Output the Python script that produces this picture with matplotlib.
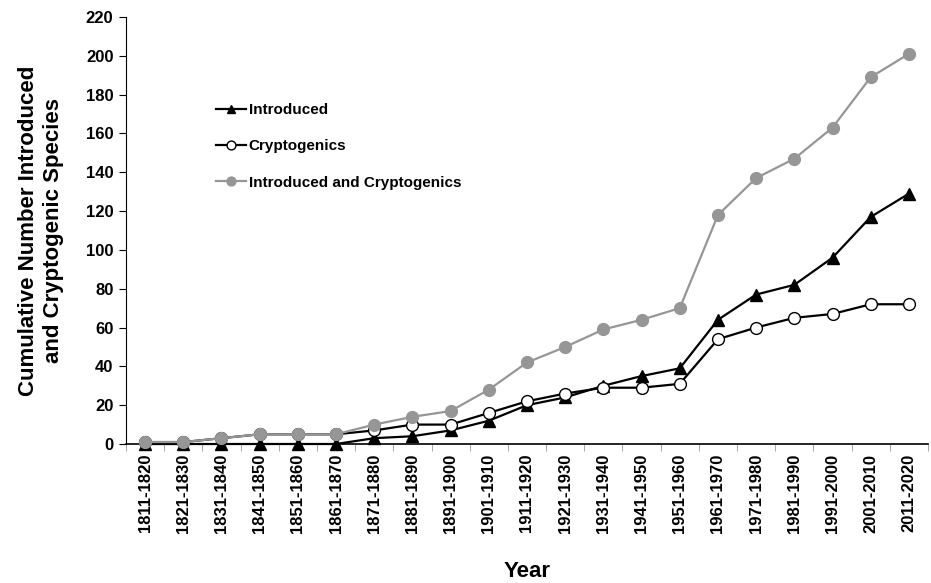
import matplotlib
matplotlib.use("Agg")
import matplotlib.pyplot as plt
import numpy as np

categories = ["1811-1820", "1821-1830", "1831-1840", "1841-1850", "1851-1860", "1861-1870",
              "1871-1880", "1881-1890", "1891-1900", "1901-1910", "1911-1920", "1921-1930",
              "1931-1940", "1941-1950", "1951-1960", "1961-1970", "1971-1980", "1981-1990",
              "1991-2000", "2001-2010", "2011-2020"]
introduced = [0, 0, 0, 0, 0, 0, 3, 4, 7, 12, 20, 24, 30, 35, 39, 64, 77, 82, 96, 117, 129]
cryptogenics = [1, 1, 3, 5, 5, 5, 7, 10, 10, 16, 22, 26, 29, 29, 31, 54, 60, 65, 67, 72, 72]
combined = [1, 1, 3, 5, 5, 5, 10, 14, 17, 28, 42, 50, 59, 64, 70, 118, 137, 147, 163, 189, 201]
yticks = list(range(0, 221, 20))

plt.rcParams['font.family'] = ['Liberation Sans', 'DejaVu Sans']
plt.rcParams['font.weight'] = 'bold'

fig = plt.figure(figsize=(9.31, 5.83), dpi=100)
ax = fig.add_axes([126/931, 1 - 444/583, (928 - 126)/931, (444 - 17)/583])

x = np.arange(len(categories))
grey = "#969696"
l_intro, = ax.plot(x, introduced, color='black', lw=1.6, marker='^', ms=8.5, mfc='black',
                   mec='black', label="Introduced", zorder=2, clip_on=False)
l_cry, = ax.plot(x, cryptogenics, color='black', lw=1.6, marker='o', ms=8.5, mfc='white',
                 mec='black', mew=1.0, label="Cryptogenics", zorder=3, clip_on=False)
l_comb, = ax.plot(x, combined, color=grey, lw=1.6, marker='o', ms=8.5, mfc=grey, mec=grey,
                  label="Introduced and Cryptogenics", zorder=4, clip_on=False)

ax.set_xlim(-0.5, len(categories) - 0.5)
ax.set_ylim(0, 220)
ax.set_yticks(yticks)
ax.set_yticklabels([str(v) for v in yticks], fontsize=12, fontweight='bold')
ax.set_xticks(x)
ax.set_xticklabels(categories, rotation=90, fontsize=12, fontweight='bold')
ax.set_xticks(np.arange(-0.5, len(categories), 1), minor=True)
ax.tick_params(axis='x', which='major', length=0, pad=7)
ax.tick_params(axis='x', which='minor', length=5, direction='out', color='#999999')
ax.tick_params(axis='y', length=5, direction='out', color='black', pad=4)

for s in ['top', 'right']:
    ax.spines[s].set_visible(False)
ax.spines['left'].set_color('black')
ax.spines['bottom'].set_color('black')
ax.spines['bottom'].set_linewidth(1.2)

ax.set_xlabel("Year", fontsize=16, fontweight='bold', labelpad=20)
ax.set_ylabel("Cumulative Number Introduced\nand Cryptogenic Species", fontsize=16,
              fontweight='bold', labelpad=16)

leg = ax.legend([l_intro, l_cry, l_comb],
                ["Introduced", "Cryptogenics", "Introduced and Cryptogenics"],
                loc='upper left', bbox_to_anchor=(0.095, 0.83), frameon=False,
                fontsize=11, handlelength=2.0, labelspacing=1.45, markerscale=0.75,
                handletextpad=0.15)
for t in leg.get_texts():
    t.set_fontweight('bold')

fig.savefig("out.png", dpi=100)
